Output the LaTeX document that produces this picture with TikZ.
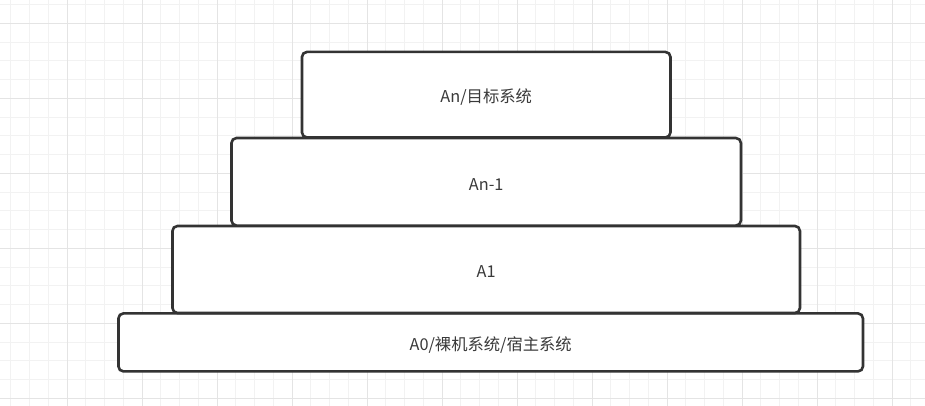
\documentclass[tikz,border=0pt]{standalone}
\usepackage{fontspec}
\newfontfamily\cjk{Noto Sans CJK SC}
\definecolor{gridminor}{HTML}{F2F2F2}
\definecolor{gridmajor}{HTML}{E4E4E4}
\definecolor{boxline}{HTML}{333333}
\definecolor{boxtext}{HTML}{3A3A3A}
\newcommand\layerlbl[1]{\raisebox{-2.5pt}[\height][\depth]{#1}}
\begin{document}
\begin{tikzpicture}[x=1pt,y=-1pt,
  layerbox/.style={draw=boxline, fill=white, line width=2.6pt, rounded corners=5pt,
    inner sep=0pt, text=boxtext, font=\cjk\fontsize{16.3}{19}\selectfont}]
\useasboundingbox (0,0) rectangle (925,406);
\fill[white] (0,0) rectangle (925,406);
% minor grid
\foreach \i in {0,...,48} \draw[gridminor, line width=1pt] (10.75+\i*18.75,0) -- (10.75+\i*18.75,406);
\foreach \j in {0,...,21} \draw[gridminor, line width=1pt] (0,4.55+\j*18.75) -- (925,4.55+\j*18.75);
% major grid
\foreach \i in {0,...,11} \draw[gridmajor, line width=1pt] (67+\i*75,0) -- (67+\i*75,406);
\foreach \j in {0,...,5} \draw[gridmajor, line width=1pt] (0,23.3+\j*75) -- (925,23.3+\j*75);
% layers
\node[layerbox, minimum width=744.5pt, minimum height=58pt] (a0) at (490.7,342.4) {\layerlbl{A0/裸机系统/宿主系统}};
\node[layerbox, minimum width=627.5pt, minimum height=87pt] (a1) at (486.2,269.5) {\layerlbl{A1}};
\node[layerbox, minimum width=509.5pt, minimum height=87.5pt] (an1) at (486.2,181.8) {\layerlbl{An-1}};
\node[layerbox, minimum width=368.5pt, minimum height=85.5pt] (an) at (486.2,94.7) {\layerlbl{An/目标系统}};
\end{tikzpicture}
\end{document}
